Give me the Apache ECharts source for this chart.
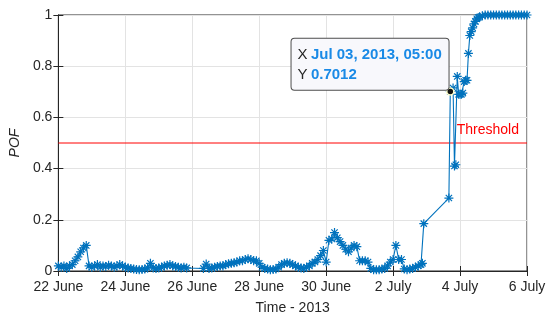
<!DOCTYPE html>
<html>
<head>
<meta charset="utf-8">
<script src="https://cdn.jsdelivr.net/npm/echarts@6/dist/echarts.min.js"></script>
<style>
  html, body { margin: 0; padding: 0; background: #fff; }
  #chart { width: 550px; height: 320px; }
</style>
</head>
<body>
<div id="chart"></div>
<script>
// hours since 22 June 2013 00:00
var hours = [
  0, 2, 4, 6, 8, 10, 12, 14, 16, 18, 20, 22, 24, 26, 28, 30, 32, 34, 36, 38, 40, 42, 44, 46, 48,
  50, 52, 54, 56, 58, 60, 62, 64, 66, 68, 70, 72, 74, 76, 78, 80, 82, 84, 86, 88, 90, 92,
  104, 106, 108, 110, 112, 114, 116, 118, 120, 122, 124, 126, 128, 130, 132, 134, 136, 138, 140, 142,
  144, 146, 148, 150, 152, 154, 156, 158, 160, 162, 164, 166, 168, 170, 172, 174, 176, 178, 180, 182,
  184, 186, 188, 190, 192, 194, 196, 198, 200, 202, 204, 206, 208, 210, 212, 214, 216, 218, 220, 222,
  224, 226, 228, 230, 232, 234, 236, 238, 240, 242, 244, 246, 248, 250, 252, 254, 256, 258, 260, 261, 262,
  280, 281, 283, 284, 285, 286, 287, 288, 289, 290, 291, 292, 293, 294, 295, 296, 297, 298, 299, 300, 301, 302, 304,
  306, 308, 310, 312, 314, 316, 318, 320, 322, 324, 326, 328, 330, 332, 334, 336
];
var pof = [
  0.02, 0.015, 0.02, 0.01, 0.02, 0.025, 0.04, 0.055, 0.075, 0.09, 0.1, 0.02, 0.015, 0.02, 0.025, 0.015, 0.02, 0.018, 0.022, 0.02, 0.015, 0.02, 0.025, 0.02, 0.015,
  0.012, 0.01, 0.008, 0.006, 0.005, 0.006, 0.008, 0.012, 0.03, 0.012, 0.01, 0.012, 0.015, 0.02, 0.022, 0.025, 0.02, 0.018, 0.015, 0.012, 0.015, 0.012,
  0.01, 0.027, 0.01, 0.012, 0.015, 0.018, 0.02, 0.02, 0.025, 0.028, 0.03, 0.032, 0.035, 0.04, 0.04, 0.045, 0.048, 0.045, 0.04, 0.04,
  0.03, 0.015, 0.01, 0.008, 0.005, 0.006, 0.008, 0.015, 0.025, 0.03, 0.032, 0.03, 0.025, 0.02, 0.015, 0.012, 0.01, 0.015, 0.02, 0.03,
  0.035, 0.045, 0.06, 0.08, 0.035, 0.12, 0.125, 0.15, 0.13, 0.115, 0.1, 0.085, 0.075, 0.09, 0.1, 0.095, 0.04, 0.04, 0.04, 0.035,
  0.01, 0.005, 0.005, 0.005, 0.008, 0.01, 0.02, 0.035, 0.045, 0.1, 0.045, 0.045, 0.008, 0.005, 0.008, 0.01, 0.015, 0.02, 0.025, 0.03, 0.185,
  0.285, 0.7012, 0.715, 0.41, 0.415, 0.76, 0.69, 0.69, 0.69, 0.695, 0.74, 0.745, 0.745, 0.85, 0.92, 0.935, 0.95, 0.965, 0.975, 0.985, 0.99, 0.992, 0.997,
  1, 1, 1, 1, 1, 1, 1, 1, 1, 1, 1, 1, 1, 1, 1, 1
];
var xTickLabels = ['22 June', '24 June', '26 June', '28 June', '30 June', '2 July', '4 July', '6 July'];
var threshold = 0.5;
var hourRange = [0, 336];
var tipPoint = [281, 0.7012];
var tipX = 'Jul 03, 2013, 05:00';
var tipY = '0.7012';

var seriesData = hours.map(function (h, i) { return [h, pof[i]]; });

var dom = document.getElementById('chart');
var myChart = echarts.init(dom, null, { renderer: 'canvas' });

var axisColor = '#262626';
var gridColor = '#e3e3e3';
var font = 'Liberation Sans, Arial, sans-serif';
var blue = '#0072BD';
var red = '#ff0000';

var option = {
  animation: false,
  textStyle: { fontFamily: font },
  grid: { left: 55, right: 23, top: 15, bottom: 49, show: true, borderColor: axisColor, borderWidth: 1 },
  xAxis: [
    {
      type: 'value',
      min: hourRange[0],
      max: hourRange[1],
      interval: 48,
      name: 'Time - 2013',
      nameLocation: 'middle',
      nameGap: 30,
      nameTextStyle: { color: axisColor, fontSize: 14, fontFamily: font },
      axisLine: { lineStyle: { color: axisColor } },
      axisTick: { inside: true, length: 5, lineStyle: { color: axisColor } },
      axisLabel: {
        color: axisColor, fontSize: 14, fontFamily: font, margin: 9,
        formatter: function (v) { return xTickLabels[Math.round(v / 48)]; }
      },
      splitLine: { show: true, lineStyle: { color: gridColor } }
    },
    {
      type: 'value', position: 'top', min: hourRange[0], max: hourRange[1], interval: 48,
      axisLine: { lineStyle: { color: axisColor } },
      axisTick: { inside: true, length: 5, lineStyle: { color: axisColor } },
      axisLabel: { show: false },
      splitLine: { show: false }
    }
  ],
  yAxis: [
    {
      type: 'value',
      min: 0,
      max: 1,
      interval: 0.2,
      name: 'POF',
      nameLocation: 'middle',
      nameGap: 20,
      nameTextStyle: { color: axisColor, fontSize: 14, fontStyle: 'italic', fontFamily: font },
      axisLine: { show: true, lineStyle: { color: axisColor } },
      axisTick: { show: true, inside: true, length: 5, lineStyle: { color: axisColor } },
      axisLabel: { color: axisColor, fontSize: 14, fontFamily: font, margin: 6 },
      splitLine: { show: true, lineStyle: { color: gridColor } }
    },
    {
      type: 'value', position: 'right', min: 0, max: 1, interval: 0.2,
      axisLine: { show: true, lineStyle: { color: axisColor } },
      axisTick: { show: true, inside: true, length: 5, lineStyle: { color: axisColor } },
      axisLabel: { show: false },
      splitLine: { show: false }
    }
  ],
  series: [
    {
      name: 'Threshold',
      type: 'line',
      silent: true,
      symbol: 'circle',
      symbolSize: 0,
      lineStyle: { color: red, width: 1 },
      itemStyle: { color: red },
      data: [
        [hourRange[0], threshold],
        {
          value: [hourRange[1], threshold],
          label: {
            show: true,
            position: 'left',
            distance: 8,
            offset: [0, -13],
            formatter: 'Threshold',
            color: red,
            fontSize: 14,
            fontFamily: font
          }
        }
      ]
    },
    {
      name: 'POF',
      type: 'line',
      data: seriesData,
      symbol: 'path://M5,0L5,10M0,5L10,5M1.5,1.5L8.5,8.5M1.5,8.5L8.5,1.5',
      symbolSize: 9,
      showAllSymbol: true,
      lineStyle: { color: blue, width: 1.1 },
      itemStyle: { color: 'rgba(0,0,0,0)', borderColor: blue, borderWidth: 1.2 },
      markPoint: {
        silent: true,
        symbol: 'circle',
        symbolSize: 7,
        itemStyle: { color: '#111111', borderColor: '#ffffcc', borderWidth: 1.5 },
        label: {
          show: true,
          position: [3.5 - 158, 3.5 - 52],
          align: 'left',
          verticalAlign: 'top',
          width: 143,
          height: 38,
          backgroundColor: '#f8f8fc',
          borderColor: '#4d4d4d',
          borderWidth: 1,
          borderRadius: 3,
          padding: [6, 8, 7, 6],
          formatter: '{k|X} {v|' + tipX + '}\n{k|Y} {v|' + tipY + '}',
          rich: {
            k: { color: axisColor, fontSize: 15, fontFamily: font, lineHeight: 20 },
            v: { color: '#1a8ae6', fontSize: 15, fontWeight: 'bold', fontFamily: font, lineHeight: 20 }
          }
        },
        data: [{ coord: tipPoint }]
      }
    }
  ]
};

myChart.setOption(option);
window.addEventListener('resize', myChart.resize);
</script>
</body>
</html>
